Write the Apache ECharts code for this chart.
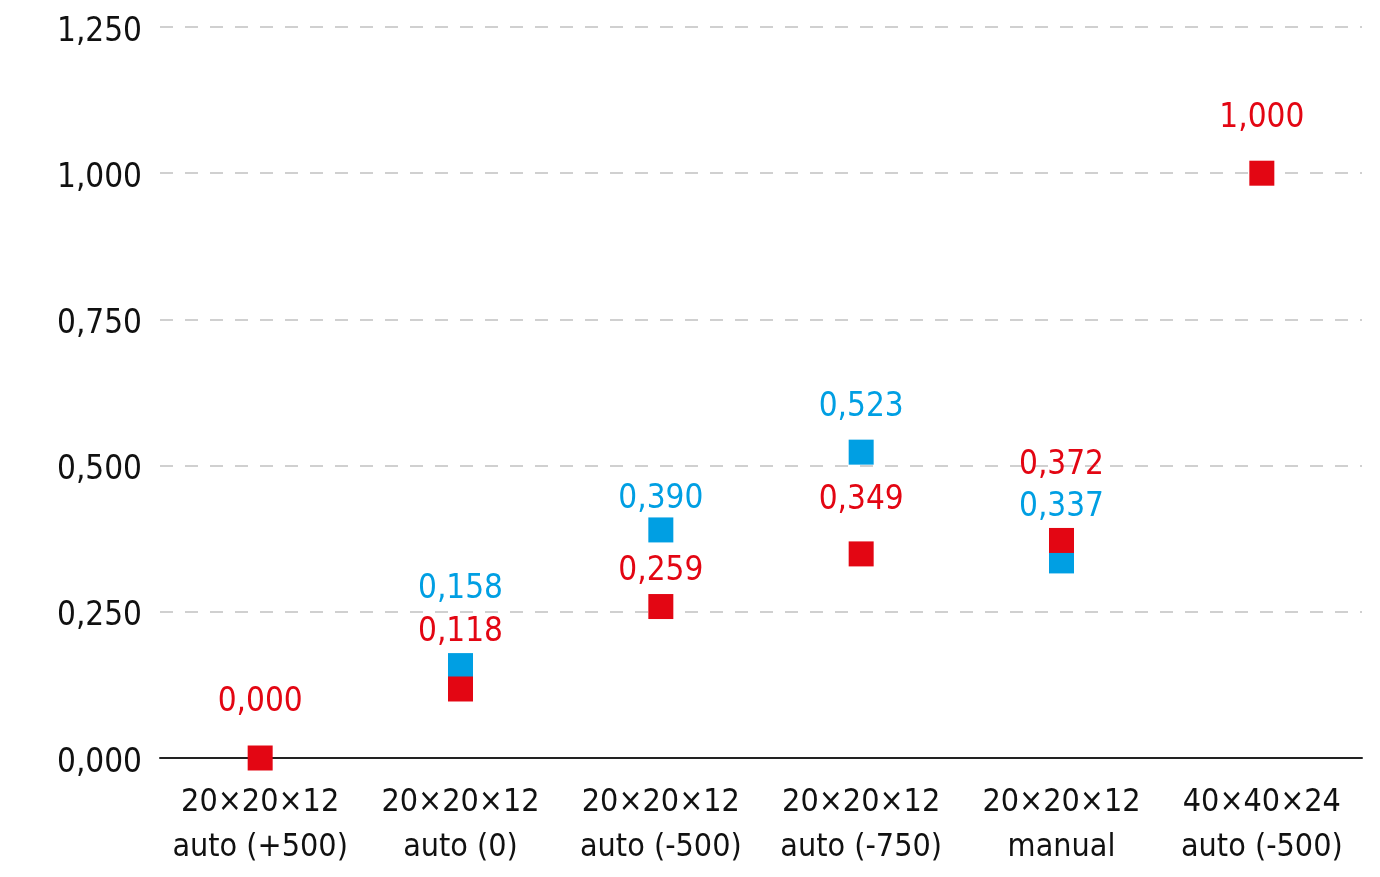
<!DOCTYPE html>
<html>
<head>
<meta charset="utf-8">
<script src="https://cdn.jsdelivr.net/npm/echarts@6/dist/echarts.min.js"></script>
<style>
html,body{margin:0;padding:0;background:#fff;}
#chart{width:1380px;height:877px;}
</style>
</head>
<body>
<div id="chart"></div>
<script>
var categories = ['20×20×12\nauto (+500)', '20×20×12\nauto (0)', '20×20×12\nauto (-500)', '20×20×12\nauto (-750)', '20×20×12\nmanual', '40×40×24\nauto (-500)'];
var redValues = [0.000, 0.118, 0.259, 0.349, 0.372, 1.000];
var blueValues = [null, 0.158, 0.390, 0.523, 0.337, null];
var yTicks = [0, 0.25, 0.5, 0.75, 1.0, 1.25];

// label vertical offsets (px above marker centre)
var redLabelOffsets = [56, 57, 35, 53, 75, 55];
var blueLabelOffsets = [0, 76, 31, 45, 54, 0];

var FONT = '"DejaVu Sans Condensed", "Liberation Sans Narrow", sans-serif';
var RED = '#e30613';
var BLUE = '#009fe3';

function fmt(v) { return v.toFixed(3).replace('.', ','); }

function buildData(values, offsets) {
  var out = [];
  for (var i = 0; i < values.length; i++) {
    if (values[i] === null) { out.push(null); continue; }
    out.push({ value: [i, values[i]], label: { offset: [0, -offsets[i]] } });
  }
  return out;
}

var chart = echarts.init(document.getElementById('chart'));
chart.setOption({
  animation: false,
  grid: { left: 160, right: 18, top: 27, bottom: 119, containLabel: false },
  xAxis: {
    type: 'category',
    data: categories,
    boundaryGap: true,
    axisLine: { show: true, lineStyle: { color: '#222', width: 2 } },
    axisTick: { show: false },
    axisLabel: {
      interval: 0,
      color: '#111',
      fontFamily: FONT,
      fontSize: 32,
      lineHeight: 45,
      margin: 22
    },
    splitLine: { show: false }
  },
  yAxis: {
    type: 'value',
    min: yTicks[0],
    max: yTicks[yTicks.length - 1],
    interval: 0.25,
    axisLine: { show: false },
    axisTick: { show: false },
    axisLabel: {
      color: '#111',
      fontFamily: FONT,
      fontSize: 33,
      margin: 18,
      formatter: function (v) { return '{t|' + fmt(v) + '}'; },
      rich: {
        t: { fontFamily: FONT, fontSize: 33, color: '#111', padding: [10, 0, 0, 0] }
      }
    },
    splitLine: { show: true, lineStyle: { color: '#d0d0d0', width: 2, type: [13, 12] } }
  },
  series: [
    {
      name: 'blue',
      type: 'scatter',
      symbol: 'rect',
      symbolSize: 25,
      itemStyle: { color: BLUE, opacity: 1 },
      z: 2,
      label: {
        show: true,
        position: 'inside',
        color: BLUE,
        fontFamily: FONT,
        fontSize: 33,
        formatter: function (p) { return fmt(p.value[1]); }
      },
      data: buildData(blueValues, blueLabelOffsets)
    },
    {
      name: 'red',
      type: 'scatter',
      symbol: 'rect',
      symbolSize: 25,
      itemStyle: { color: RED, opacity: 1 },
      z: 3,
      label: {
        show: true,
        position: 'inside',
        color: RED,
        fontFamily: FONT,
        fontSize: 33,
        formatter: function (p) { return fmt(p.value[1]); }
      },
      data: buildData(redValues, redLabelOffsets)
    }
  ]
});
</script>
</body>
</html>
